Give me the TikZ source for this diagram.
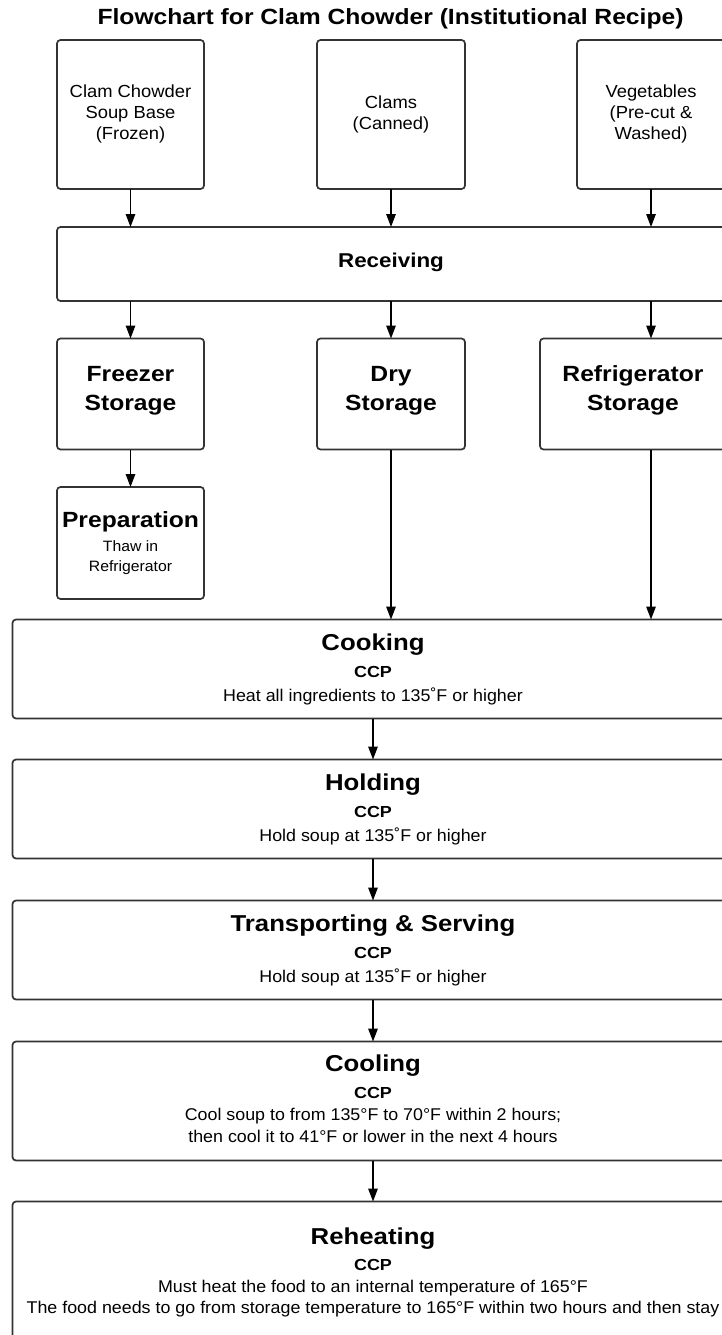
\documentclass[tikz,border=0pt]{standalone}
\usepackage{fontspec}
\setmainfont{Liberation Sans}
\newfontfamily\hdfont{Liberation Sans}[FakeStretch=1.12]
\newfontfamily\rgfont{Liberation Sans}[FakeStretch=1.05]
\usetikzlibrary{arrows.meta}
\tikzset{
  box/.style={draw=black!80, line width=1.7pt, rounded corners=3.5pt, inner sep=0pt, outer sep=0pt, anchor=north west},
  arr/.style={draw=black, line width=1.4pt, -{Triangle[length=13pt,width=9.5pt]}},
  ttl/.style={anchor=base, inner sep=0pt, font=\hdfont\bfseries\fontsize{22}{26}\selectfont},
  hd/.style={anchor=base, inner sep=0pt, font=\hdfont\bfseries\fontsize{22}{26}\selectfont},
  bighd/.style={anchor=base, inner sep=0pt, font=\hdfont\bfseries\fontsize{23}{27}\selectfont},
  midhd/.style={anchor=base, inner sep=0pt, font=\hdfont\bfseries\fontsize{20}{24}\selectfont},
  ccp/.style={anchor=base, inner sep=0pt, font=\hdfont\bfseries\fontsize{16}{19}\selectfont},
  txt/.style={anchor=base, inner sep=0pt, font=\rgfont\fontsize{17.5}{21}\selectfont},
  desc/.style={anchor=base, inner sep=0pt, font=\rgfont\fontsize{17}{21}\selectfont},
  small/.style={anchor=base, inner sep=0pt, font=\rgfont\fontsize{15}{18}\selectfont},
}
\begin{document}
\begin{tikzpicture}[x=1pt,y=-1pt]
\useasboundingbox (0,0) rectangle (722,1335);
\clip (0,0) rectangle (722,1335);
\fill[white] (0,0) rectangle (722,1335);

% title
\node[ttl] (title) at (390.5,25) {Flowchart for Clam Chowder (Institutional Recipe)};

% top ingredient boxes
\node[box, minimum width=147pt, minimum height=149pt] (b1) at (57,40) {};
\node[box, minimum width=148pt, minimum height=149pt] (b2) at (317,40) {};
\node[box, minimum width=148pt, minimum height=149pt] (b3) at (577,40) {};
\node[txt] (b1a) at (130.5,97.7) {Clam Chowder};
\node[txt] (b1b) at (130.5,118.7) {Soup Base};
\node[txt] (b1c) at (130.5,139.7) {(Frozen)};
\node[txt] (b2a) at (391,108.2) {Clams};
\node[txt] (b2b) at (391,129.2) {(Canned)};
\node[txt] (b3a) at (651,97.7) {Vegetables};
\node[txt] (b3b) at (651,118.7) {(Pre-cut \&};
\node[txt] (b3c) at (651,139.7) {Washed)};

% receiving
\node[box, minimum width=668pt, minimum height=74pt] (rec) at (57,227) {};
\node[midhd] (rect) at (391,267.3) {Receiving};

% storage
\node[box, minimum width=147pt, minimum height=111pt] (fz) at (57,338.5) {};
\node[box, minimum width=148pt, minimum height=111pt] (dry) at (317,338.5) {};
\node[box, minimum width=186pt, minimum height=111pt] (ref) at (540,338.5) {};
\node[hd] (fza) at (130.5,381.3) {Freezer};
\node[hd] (fzb) at (130.5,410.7) {Storage};
\node[hd] (drya) at (391,381.3) {Dry};
\node[hd] (dryb) at (391,410.7) {Storage};
\node[hd] (refa) at (633,381.3) {Refrigerator};
\node[hd] (refb) at (633,410.7) {Storage};

% preparation
\node[box, minimum width=147pt, minimum height=112pt] (prep) at (57,487) {};
\node[hd] (prepa) at (130.5,527.3) {Preparation};
\node[small] (prepb) at (130.5,551) {Thaw in};
\node[small] (prepc) at (130.5,571.7) {Refrigerator};

% cooking
\node[box, minimum width=721pt, minimum height=99pt] (cook) at (12.5,619.5) {};
\node[bighd] (cooka) at (373,650.7) {Cooking};
\node[ccp] (cookb) at (373,677.7) {CCP};
\node[desc] (cookc) at (373,701) {Heat all ingredients to 135˚F or higher};

% holding
\node[box, minimum width=721pt, minimum height=99pt] (hold) at (12.5,759.5) {};
\node[bighd] (holda) at (373,790.7) {Holding};
\node[ccp] (holdb) at (373,817.7) {CCP};
\node[desc] (holdc) at (373,841) {Hold soup at 135˚F or higher};

% transporting
\node[box, minimum width=721pt, minimum height=99pt] (trans) at (12.5,900.5) {};
\node[bighd] (transa) at (373,931.7) {Transporting \& Serving};
\node[ccp] (transb) at (373,958.7) {CCP};
\node[desc] (transc) at (373,982) {Hold soup at 135˚F or higher};

% cooling
\node[box, minimum width=721pt, minimum height=119pt] (cool) at (12.5,1041.5) {};
\node[bighd] (coola) at (373,1071) {Cooling};
\node[ccp] (coolb) at (373,1098) {CCP};
\node[desc] (coolc) at (373,1120.5) {Cool soup to from 135°F to 70°F within 2 hours;};
\node[desc] (coold) at (373,1142) {then cool it to 41°F or lower in the next 4 hours};

% reheating
\node[box, minimum width=721pt, minimum height=150pt] (reh) at (12.5,1201.5) {};
\node[bighd] (reha) at (373,1244) {Reheating};
\node[ccp] (rehb) at (373,1270.5) {CCP};
\node[desc] (rehc) at (373,1292) {Must heat the food to an internal temperature of 165°F};
\node[desc] (rehd) at (373,1313.5) {The food needs to go from storage temperature to 165°F within two hours and then stay};

% connectors
\draw[arr] (b1.south) -- (b1.south |- rec.north);
\draw[arr] (b2.south) -- (b2.south |- rec.north);
\draw[arr] (b3.south) -- (b3.south |- rec.north);
\draw[arr] (b1.south |- rec.south) -- (fz.north);
\draw[arr] (b2.south |- rec.south) -- (dry.north);
\draw[arr] (b3.south |- rec.south) -- (b3.south |- ref.north);
\draw[arr] (fz.south) -- (prep.north);
\draw[arr] (dry.south) -- (dry.south |- cook.north);
\draw[arr] (b3.south |- ref.south) -- (b3.south |- cook.north);
\draw[arr] (cook.south) -- (hold.north);
\draw[arr] (hold.south) -- (trans.north);
\draw[arr] (trans.south) -- (cool.north);
\draw[arr] (cool.south) -- (reh.north);
\end{tikzpicture}
\end{document}
